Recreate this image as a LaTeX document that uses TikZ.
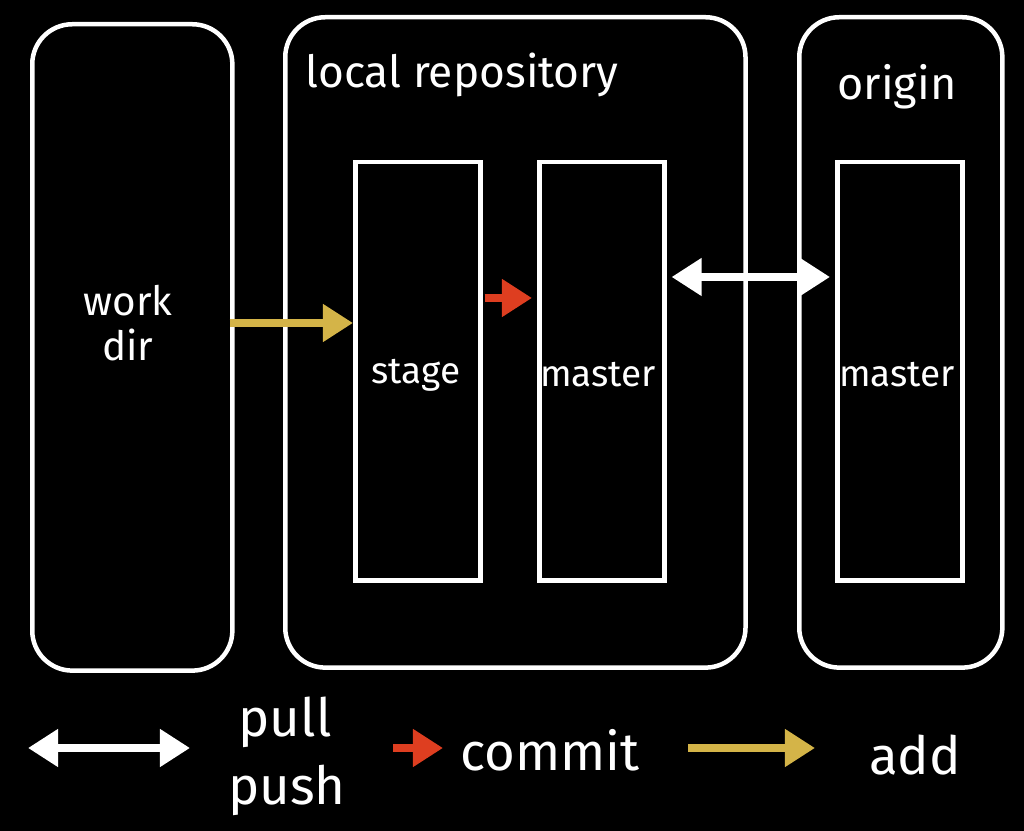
\documentclass[tikz,border=0pt]{standalone}
\usepackage{fontspec}
\setmainfont{Fira Sans}
\usetikzlibrary{positioning,arrows.meta}
\definecolor{chalkyellow}{RGB}{212,180,72}
\definecolor{chalkred}{RGB}{222,62,32}
\tikzset{
  zone/.style={draw=white, line width=0.045cm, rounded corners=0.4cm, anchor=north west, inner sep=0pt},
  slot/.style={draw=white, line width=0.045cm, anchor=north west, inner sep=0pt},
  lbl/.style={text=white, font=\fontsize{10.5}{13}\selectfont, align=center, inner sep=1pt},
  keylbl/.style={text=white, font=\fontsize{15}{18}\selectfont, align=center, inner sep=1pt},
  syncarrow/.style={{Triangle[length=0.3cm,width=0.36cm]}-{Triangle[length=0.3cm,width=0.36cm]}, line width=0.075cm, white},
  commitarrow/.style={-{Triangle[length=0.3cm,width=0.36cm]}, line width=0.075cm, chalkred},
  addarrow/.style={-{Triangle[length=0.3cm,width=0.36cm]}, line width=0.075cm, chalkyellow}
}
\begin{document}
\begin{tikzpicture}[x=0.01cm, y=-0.01cm]
  \fill[black] (0,0) rectangle (1024,831);
  \useasboundingbox (0,0) rectangle (1024,831);
  % outer zones
  \node[zone, minimum width=2cm, minimum height=6.46cm] (workdir) at (30,22) {};
  \node[zone, minimum width=4.6cm, minimum height=6.5cm] (local) at (283,15) {};
  \node[zone, minimum width=2.03cm, minimum height=6.5cm] (origin) at (797,15) {};
  % inner slots
  \node[slot, minimum width=1.25cm, minimum height=4.18cm] (stage) at (353,160) {};
  \node[slot, minimum width=1.25cm, minimum height=4.18cm] (master) at (537,160) {};
  \node[slot, minimum width=1.25cm, minimum height=4.18cm] (omaster) at (835,160) {};
  % labels
  \node[lbl, font=\fontsize{11.5}{13}\selectfont] (wdtext) at (128,323) {work\\dir};
  \node[lbl, font=\fontsize{12.6}{15}\selectfont] (localtext) at (462,75) {local repository};
  \node[lbl, font=\fontsize{12.8}{15}\selectfont] (origintext) at (897,87) {origin};
  \node[lbl] (stagetext) at (416,375) {stage};
  \node[lbl] (mastertext) at (598,375) {master};
  \node[lbl] (omastertext) at (897,375) {master};
  \coordinate (commitlvl) at (0,298);
  \coordinate (synclvl) at (0,277);
  % flows
  \draw[addarrow] ([xshift=-0.05cm]workdir.east |- wdtext) -- (stage.west |- wdtext);
  \draw[commitarrow] ([xshift=0.02cm]stage.east |- commitlvl) -- ([xshift=-0.05cm]master.west |- commitlvl);
  \draw[syncarrow] ([xshift=0.05cm]master.east |- synclvl) -- ([xshift=-0.05cm]omaster.west |- synclvl);
  % legend
  \coordinate (k1a) at (28,748);
  \coordinate (k1b) at (190,748);
  \coordinate (k2a) at (393,748);
  \coordinate (k2b) at (443,748);
  \coordinate (k3a) at (688,748);
  \coordinate (k3b) at (815,748);
  \node[keylbl] (pulltext) at (285,722) {pull};
  \node[keylbl] (pushtext) at (287,790) {push};
  \node[keylbl] (committext) at (550,750) {commit};
  \node[keylbl] (addtext) at (915,755) {add};
  \draw[syncarrow] (k1a) -- (k1b);
  \draw[commitarrow] (k2a) -- (k2b);
  \draw[addarrow] (k3a) -- (k3b);
\end{tikzpicture}
\end{document}
